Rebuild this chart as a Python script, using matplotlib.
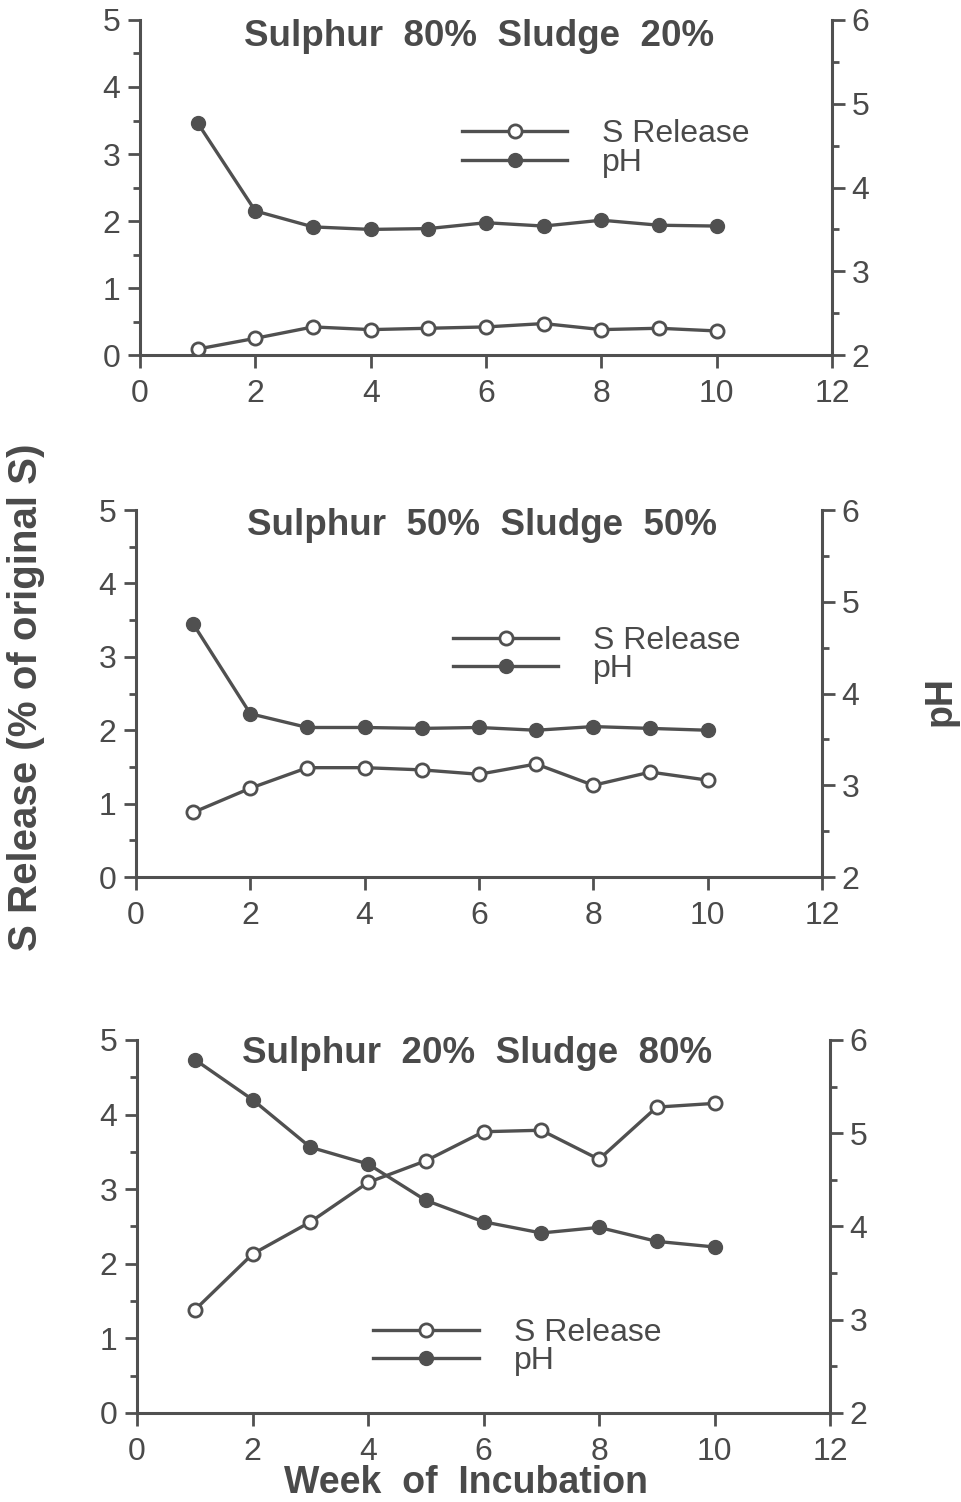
import matplotlib
matplotlib.use("Agg")
import matplotlib.pyplot as plt
from matplotlib.ticker import MultipleLocator

# === Data ===
weeks = [1, 2, 3, 4, 5, 6, 7, 8, 9, 10]

titles = ["Sulphur  80%  Sludge  20%",
          "Sulphur  50%  Sludge  50%",
          "Sulphur  20%  Sludge  80%"]

# S release (% of original S), left axis
s_release_80 = [0.09, 0.25, 0.42, 0.38, 0.40, 0.42, 0.47, 0.38, 0.40, 0.36]
s_release_50 = [0.88, 1.21, 1.49, 1.49, 1.46, 1.40, 1.54, 1.25, 1.43, 1.32]
s_release_20 = [1.38, 2.13, 2.56, 3.09, 3.38, 3.77, 3.79, 3.40, 4.10, 4.15]

# pH, right axis
ph_80 = [4.77, 3.72, 3.53, 3.50, 3.51, 3.58, 3.54, 3.61, 3.55, 3.54]
ph_50 = [4.76, 3.78, 3.63, 3.63, 3.62, 3.63, 3.60, 3.64, 3.62, 3.60]
ph_20 = [5.79, 5.36, 4.85, 4.67, 4.28, 4.05, 3.93, 3.99, 3.84, 3.78]

s_series = [s_release_80, s_release_50, s_release_20]
ph_series = [ph_80, ph_50, ph_20]

# === Style ===
ink = "#505050"
txt = "#4a4a4a"
plt.rcParams['font.family'] = ['Liberation Sans', 'DejaVu Sans']
plt.rcParams['text.color'] = txt
plt.rcParams['axes.labelcolor'] = txt
plt.rcParams['xtick.color'] = ink
plt.rcParams['ytick.color'] = ink
plt.rcParams['xtick.labelcolor'] = txt
plt.rcParams['ytick.labelcolor'] = txt

fig = plt.figure(figsize=(9.61, 15.02), dpi=100)

# axes rectangles [left, bottom, width, height] in figure fractions
rects = [[0.1457, 0.7636, 0.7201, 0.2231],
         [0.1415, 0.4161, 0.7138, 0.2443],
         [0.1426, 0.0593, 0.7211, 0.2483]]
title_pos = [(0.49, 0.952), (0.505, 0.959), (0.49, 0.965)]
legend_pos = [(0.465, 0.616), (0.462, 0.605), (0.341, 0.176)]

for i in range(3):
    ax = fig.add_axes(rects[i])
    ax2 = ax.twinx()

    l1, = ax.plot(weeks, s_series[i], color=ink, lw=2.4, marker='o',
                  markersize=9.5, markerfacecolor='white',
                  markeredgecolor=ink, markeredgewidth=2.0,
                  label='S Release', zorder=3)
    l2, = ax2.plot(weeks, ph_series[i], color=ink, lw=2.4, marker='o',
                   markersize=10, markerfacecolor=ink,
                   markeredgecolor=ink, label='pH', zorder=3)

    ax.set_xlim(0, 12)
    ax.set_ylim(0, 5)
    ax2.set_ylim(2, 6)

    ax.xaxis.set_major_locator(MultipleLocator(2))
    ax.yaxis.set_major_locator(MultipleLocator(1))
    ax.yaxis.set_minor_locator(MultipleLocator(0.5))
    ax2.yaxis.set_major_locator(MultipleLocator(1))
    ax2.yaxis.set_minor_locator(MultipleLocator(0.5))

    for a in (ax, ax2):
        a.spines['top'].set_visible(False)
        for s in a.spines.values():
            s.set_color(ink)
            s.set_linewidth(2.2)
    ax.spines['right'].set_visible(False)
    ax2.spines['left'].set_visible(False)
    ax2.spines['bottom'].set_visible(False)

    ax.tick_params(axis='x', which='major', direction='out', length=9,
                   width=2, labelsize=23, pad=8)
    ax.tick_params(axis='y', which='major', direction='out', length=9,
                   width=2, labelsize=23, pad=5)
    ax.tick_params(axis='y', which='minor', direction='out', length=5, width=2)
    ax2.tick_params(axis='y', which='major', direction='out', length=9,
                    width=2, labelsize=23, pad=5)
    ax2.tick_params(axis='y', which='minor', direction='out', length=5, width=2)

    ax.text(title_pos[i][0], title_pos[i][1], titles[i], transform=ax.transAxes,
            ha='center', va='center', fontsize=26.5, fontweight='bold')

    ax2.legend([l1, l2], ['S Release', 'pH'], loc='center left',
               bbox_to_anchor=legend_pos[i], frameon=False, fontsize=23,
               handlelength=3.3, handletextpad=1.1, labelspacing=-0.05,
               borderpad=0, borderaxespad=0, numpoints=1)

fig.text(0.027, 1 - 697 / 1502, 'S Release (% of original S)', rotation=90,
         ha='center', va='center', fontsize=29, fontweight='bold')
fig.text(941 / 961, 1 - 701 / 1502, 'pH', rotation=90,
         ha='center', va='center', fontsize=27, fontweight='bold')
fig.text(466 / 961, 1 - 1483 / 1502, 'Week  of  Incubation',
         ha='center', va='center', fontsize=27, fontweight='bold')

fig.savefig("out.png", dpi=100)
